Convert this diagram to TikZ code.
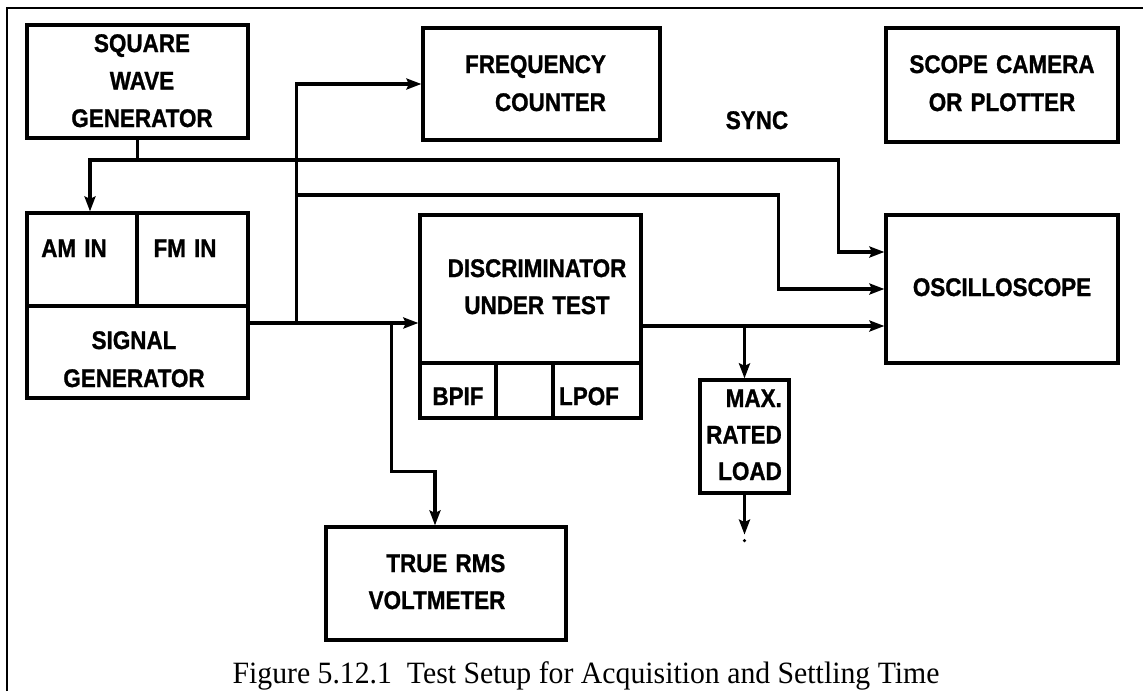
\documentclass[tikz,border=0pt]{standalone}
\usepackage{fontspec}
\usetikzlibrary{arrows.meta,calc}
\newfontfamily\plotfont{Liberation Sans Bold}[FakeStretch=0.88,FakeBold=1,WordSpace=1.3]
\newfontfamily\capfont{Liberation Serif}[FakeStretch=0.96]
\tikzset{
  blk/.style={draw, line width=3.2pt, inner sep=0pt, minimum width=#1},
  wire/.style={line width=3.2pt},
  arr/.style={line width=3.2pt, -{Stealth[length=15pt,width=11pt,inset=2.5pt]}},
  lbl/.style={inner sep=0pt, anchor=base, font=\plotfont\fontsize{25.5}{37.5}\selectfont},
}
\begin{document}
\begin{tikzpicture}[x=1pt,y=-1pt]
\useasboundingbox (0,0) rectangle (1143,691);
\fill[white] (0,0) rectangle (1143,691);
% frame
\draw[line width=2pt] (7,691) -- (7,8) -- (1143,8);

% boxes
\node[blk=221pt, minimum height=113pt] (swg) at (137.5,81.5) {};
\node[blk=110pt, minimum height=93pt] (am) at (82,259.5) {};
\node[blk=111pt, minimum height=93pt] (fm) at (192.5,259.5) {};
\node[blk=221pt, minimum height=92pt] (sig) at (137.5,352) {};
\node[blk=237pt, minimum height=112pt] (fc) at (541.5,84) {};
\node[blk=232pt, minimum height=114pt] (cam) at (1002,85) {};
\node[blk=232pt, minimum height=148pt] (osc) at (1002,289) {};
\node[blk=221pt, minimum height=148pt] (dut) at (530.5,289) {};
\node[blk=76pt, minimum height=55pt] (bpif) at (458,390.5) {};
\node[blk=57pt, minimum height=55pt] (mid) at (524.5,390.5) {};
\node[blk=88pt, minimum height=55pt] (lpof) at (597,390.5) {};
\node[blk=89pt, minimum height=113pt] (max) at (744.5,436.5) {};
\node[blk=240pt, minimum height=113pt] (rms) at (446,583.5) {};

% texts (anchor base = baseline of the last line)
\node[lbl, align=center] (tswg) at (142,127) {SQUARE\\WAVE\\GENERATOR};
\node[lbl, align=right, font=\plotfont\fontsize{25.5}{38}\selectfont] (tfc) at (535.5,111) {FREQUENCY\\COUNTER};
\node[lbl] (tsync) at (757,129) {SYNC};
\node[lbl, align=center, font=\plotfont\fontsize{25.5}{38}\selectfont] (tcam) at (1002,111) {SCOPE CAMERA\\OR PLOTTER};
\node[lbl] (tam) at (74,257) {AM IN};
\node[lbl] (tfm) at (185,257) {FM IN};
\node[lbl, align=center, font=\plotfont\fontsize{25.5}{38}\selectfont] (tsig) at (134,387) {SIGNAL\\GENERATOR};
\node[lbl, align=center, font=\plotfont\fontsize{25.5}{37}\selectfont] (tdut) at (537,314) {DISCRIMINATOR\\UNDER TEST};
\node[lbl] (tosc) at (1002,296) {OSCILLOSCOPE};
\node[lbl] (tbpif) at (458,405) {BPIF};
\node[lbl] (tlpof) at (589,405) {LPOF};
\node[lbl, align=right, font=\plotfont\fontsize{25.5}{36.5}\selectfont] (tmax) at (744,480) {MAX.\\RATED\\LOAD};
\node[lbl, align=right, font=\plotfont\fontsize{25.5}{37}\selectfont] (trms) at (437,609) {TRUE RMS\\VOLTMETER};

% caption
\node[inner sep=0pt, anchor=base, font=\capfont\fontsize{31}{31}\selectfont] (cap) at (586,683)
  {Figure 5.12.1\ \ Test Setup for Acquisition and Settling Time};

% junction coordinates
\coordinate (j1) at (137.5,160);
\coordinate (dutin) at ([yshift=-34pt]dut.west);
\coordinate (sigout) at (sig.east |- dutin);
\coordinate (j2) at ($(sigout)+(47,0)$);
\coordinate (j3) at ($(j2)+(0,-128)$);
\coordinate (j4) at ($(sigout)+(142,0)$);
\coordinate (osc1) at ([yshift=37pt]osc.west);
\coordinate (osc3) at ([yshift=-37pt]osc.west);
\coordinate (dutout) at (dut.east |- osc3);
\coordinate (j5) at (max.north |- osc3);
\coordinate (rmsin) at ([xshift=-11pt]rms.north);
\coordinate (gnd) at ($(max.south)+(0,40)$);

% connectors
\draw[wire] (swg.south) -- (j1);
\draw[arr] (j1) -| ([xshift=8pt]am.north);
\draw[arr] (j1) -| ($(osc1)+(-46,0)$) -- (osc1);
\draw[arr] (sigout) -- (dutin);
\draw[arr] (j2) |- (fc.west);
\draw[arr] (j3) -| ($(osc.west)+(-106,0)$) -- (osc.west);
\draw[arr] (j4) |- ($(rmsin)+(0,-54)$) -- (rmsin);
\draw[arr] (dutout) -- (osc3);
\draw[arr] (j5) -- (max.north);
\draw[arr] (max.south) -- (gnd);
\fill ($(gnd)+(0,6)$) circle (1.8);
\end{tikzpicture}
\end{document}
